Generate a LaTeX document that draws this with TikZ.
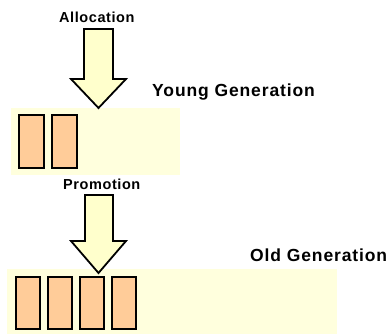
\documentclass[tikz,border=0pt]{standalone}
\usepackage{fontspec}
\newfontfamily\genfont[LetterSpace=5]{Liberation Sans}
\newfontfamily\stepfont[LetterSpace=4]{Liberation Sans}
\definecolor{regionfill}{HTML}{FFFFDD}
\definecolor{arrowfill}{HTML}{FFFFCC}
\definecolor{blockfill}{HTML}{FFCC99}

\begin{document}
\begin{tikzpicture}[
  x=1pt, y=-1pt,
  region/.style={fill=regionfill, draw=none},
  objblock/.style={fill=blockfill, draw=black, line width=2pt},
  bigarrow/.style={fill=arrowfill, draw=black, line width=1.8pt, line join=miter},
  genlabel/.style={inner sep=0pt, anchor=base west, font=\genfont\bfseries\fontsize{17.5}{20}\selectfont},
  steplabel/.style={inner sep=0pt, anchor=base west, font=\stepfont\bfseries\fontsize{14.5}{16}\selectfont}
]

% Background
\useasboundingbox[fill=white] (0,0) rectangle (392,335);

% ── Generation regions ──
\fill[region] (11,108) rectangle (180,175);
\fill[region] (7,269) rectangle (337,334);

% ── Objects in the young generation ──
\foreach \i in {0,1}
  \draw[objblock] ({19+33*\i},115) rectangle ({44+33*\i},168);

% ── Objects in the old generation ──
\foreach \i in {0,...,3}
  \draw[objblock] ({16+32*\i},277) rectangle ({40+32*\i},329);

% ── Allocation arrow ──
\draw[bigarrow] (84,29) -- (113,29) -- (113,79) -- (126,79) -- (98.5,108)
  -- (71,79) -- (84,79) -- cycle;

% ── Promotion arrow ──
\draw[bigarrow] (85,195) -- (113,195) -- (113,241) -- (126,241) -- (98.5,273)
  -- (71,241) -- (85,241) -- cycle;

% ── Labels ──
\node[steplabel] (alloc) at (59,22.5) {Allocation};
\node[steplabel] (promo) at (63,189.5) {Promotion};
\node[genlabel] (young) at (152,96.5) {Young Generation};
\node[genlabel] (old) at (250,261) {Old Generation};

\end{tikzpicture}
\end{document}
